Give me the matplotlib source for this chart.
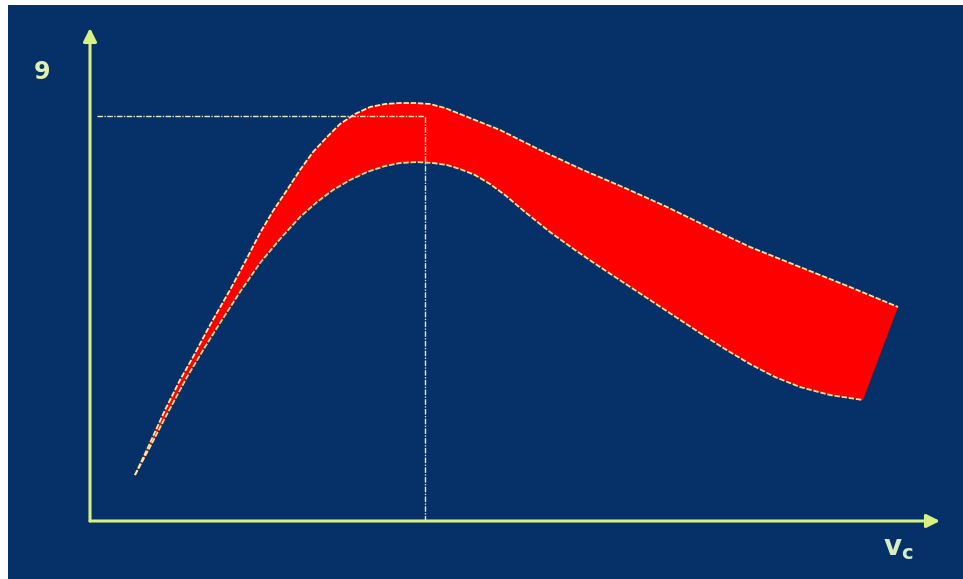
import matplotlib
matplotlib.use("Agg")
import matplotlib.pyplot as plt
import numpy as np

# curve points (x = v_c, y = theta, origin at axis crossing)
upper_x = [45, 60, 75, 90, 103, 120, 140, 155, 170, 183, 197, 210, 223, 237, 250,
           265, 280, 295, 310, 325, 340, 355, 370, 390, 410, 450, 493, 535, 577,
           620, 660, 710, 760, 808]
upper_y = [46, 78, 111, 141, 164, 196, 231, 259, 288, 310, 331, 351, 369, 384, 397,
           407, 414, 417, 418, 418, 417, 413, 407, 399, 391, 371, 351, 333, 314,
           293, 274, 254, 234, 214]
lower_x = [45, 60, 75, 97, 115, 130, 150, 170, 190, 210, 227, 243, 260, 277, 295,
           310, 327, 343, 357, 370, 385, 400, 415, 435, 460, 485, 510, 560, 610,
           635, 660, 685, 710, 740, 773]
lower_y = [46, 74, 103, 144, 174, 198, 229, 258, 282, 304, 319, 331, 341, 349, 355,
           358, 359, 358, 356, 352, 346, 337, 326, 309, 289, 271, 254, 221, 188,
           172, 157, 144, 134, 126, 121]

peak_x = 335
peak_y = 405
x_end = 850
y_end = 493

bg = '#063068'
axis_col = '#d8f080'
edge_col = '#ffe69a'

fig = plt.figure(figsize=(9.63, 5.79), dpi=100, facecolor='white')
ax = fig.add_axes([8 / 963, 0, 955 / 963, 574 / 579])
ax.set_facecolor(bg)
ax.set_xlim(-82, 873)
ax.set_ylim(-58, 516)
ax.set_xticks([])
ax.set_yticks([])
for s in ax.spines.values():
    s.set_visible(False)

# red band between the two curves
poly_x = np.concatenate([upper_x, lower_x[::-1]])
poly_y = np.concatenate([upper_y, lower_y[::-1]])
ax.fill(poly_x, poly_y, color='#ff0000', lw=0, zorder=2)
ax.plot(upper_x, upper_y, color=edge_col, lw=1.3, ls=(0, (3, 1)), zorder=3)
ax.plot(lower_x, lower_y, color=edge_col, lw=1.3, ls=(0, (3, 1)), zorder=3)

# dashed guide lines to the peak
ax.plot([7, peak_x], [peak_y, peak_y], color='#e8e8c0', lw=1, ls=(0, (4, 1, 1, 1)), zorder=4)
ax.plot([peak_x, peak_x], [0, peak_y], color='#e8e8c0', lw=1, ls=(0, (4, 1, 1, 1)), zorder=4)

# axes with arrows
arrow = dict(arrowstyle='-|>', color=axis_col, lw=2.2, mutation_scale=20,
             shrinkA=0, shrinkB=0)
ax.annotate('', xy=(0, y_end), xytext=(0, 0), arrowprops=arrow, zorder=5)
ax.annotate('', xy=(x_end, 0), xytext=(0, 0), arrowprops=arrow, zorder=5)

ax.text(-48, 449, '9', color='#e0f0b0', fontsize=17, fontweight='bold',
        ha='center', va='center')
ax.text(793, -27, r'v$_\mathregular{c}$', color='#d8ecc8', fontsize=20,
        fontweight='bold', ha='left', va='center')

fig.savefig('out.png', dpi=100, facecolor=fig.get_facecolor())
